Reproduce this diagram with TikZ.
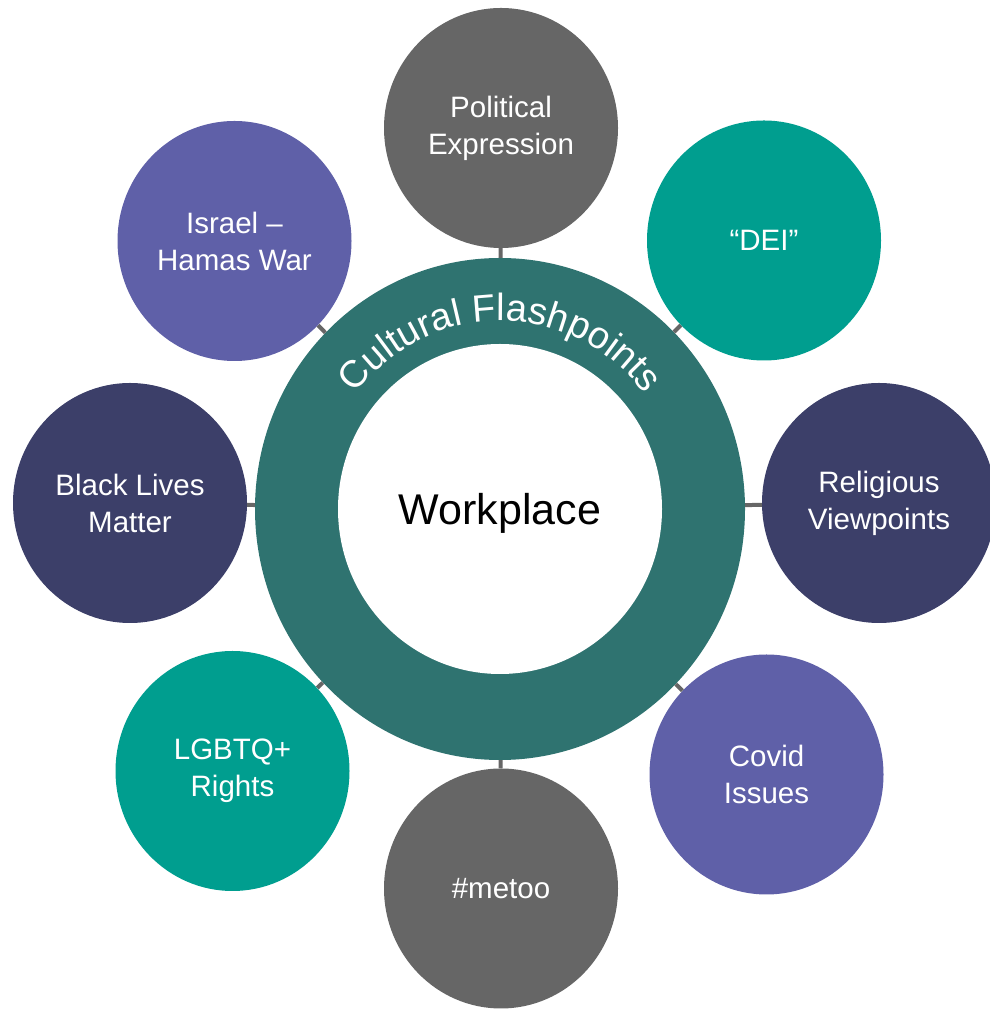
\documentclass[tikz,border=0pt]{standalone}
\usepackage{fontspec}
\setmainfont{Liberation Sans}
\usetikzlibrary{shapes.geometric,decorations.text}
\definecolor{cgray}{HTML}{666666}
\definecolor{cteal}{HTML}{009E8F}
\definecolor{cnavy}{HTML}{3C3F69}
\definecolor{cpurple}{HTML}{5F60A8}
\definecolor{cring}{HTML}{2F7370}
\tikzset{
  sat/.style={ellipse, inner sep=0pt, minimum width=234pt, minimum height=240pt,
    text=white, align=center, font=\fontsize{29.5}{37}\selectfont},
  link/.style={draw=cgray, line width=4pt}
}
\begin{document}
\begin{tikzpicture}[x=1pt,y=1pt]
\useasboundingbox (0,0) rectangle (990,1009);
% central ring
\node[ellipse, fill=cring, inner sep=0pt, minimum width=490pt, minimum height=502pt] (ring) at (500,500) {};
\node[ellipse, fill=white, inner sep=0pt, minimum width=324pt, minimum height=330pt] (inner) at (500,500) {};
\node[font=\fontsize{43}{50}\selectfont] (work) at (500,496) {Workplace};
\path[decorate, decoration={text along path, text align=center,
  text={|\fontsize{38}{44}\selectfont\color{white}|Cultural Flashpoints}}]
  (500,500) ++(175:183 and 188) arc[start angle=175, end angle=5, x radius=183, y radius=188];
% satellites
\node[sat, fill=cgray]   (pol) at (501,881)   {Political\\Expression};
\node[sat, fill=cteal]   (dei) at (764,768.5) {“DEI”};
\node[sat, fill=cnavy]   (rel) at (879,506)   {Religious\\Viewpoints};
\node[sat, fill=cpurple] (cov) at (766.5,234.5) {Covid\\Issues};
\node[sat, fill=cgray]   (met) at (501,120.5) {\#metoo};
\node[sat, fill=cteal]   (lgb) at (232.5,238) {LGBTQ+\\Rights};
\node[sat, fill=cnavy]   (blm) at (130,506)   {Black Lives\\Matter};
\node[sat, fill=cpurple] (isr) at (234.5,768) {Israel –\\Hamas War};
% connectors
\foreach \s in {pol,dei,rel,cov,met,lgb,blm,isr}
  \draw[link] (ring) -- (\s);
\end{tikzpicture}
\end{document}
